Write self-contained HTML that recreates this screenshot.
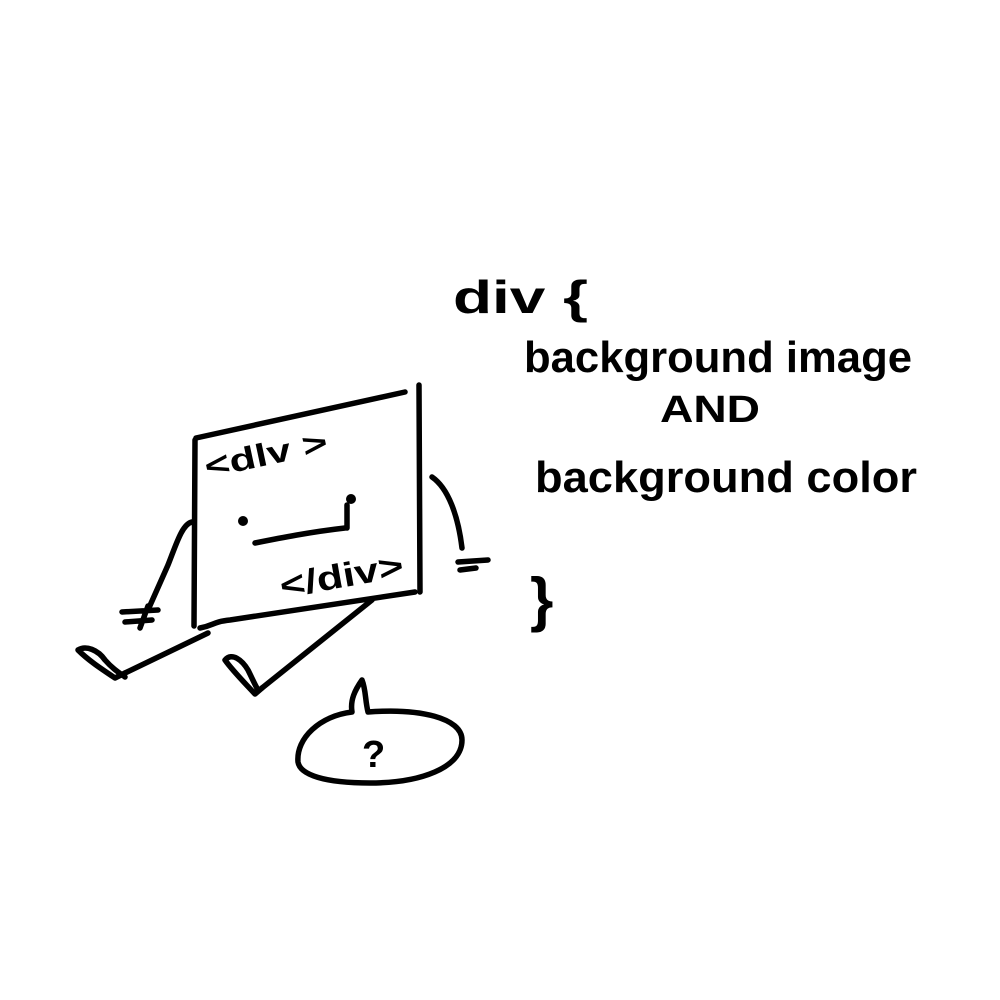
<!DOCTYPE html>
<html><head><meta charset="utf-8"><style>
html,body{margin:0;padding:0;background:#fff;}
svg{display:block}
text{font-family:"Liberation Sans",sans-serif;font-weight:bold;fill:#000}
</style></head><body>
<svg width="1000" height="1000" viewBox="0 0 1000 1000">
<g fill="none" stroke="#000" stroke-width="5.5" stroke-linecap="round" stroke-linejoin="round">
 <path d="M196 438 L405 392"/>
 <path d="M419 385 L420 592"/>
 <path d="M195 440 L194 626"/>
 <path d="M200 628 C215 625 212 622 230 620 L415 592"/>
 <path d="M192 522 C182 524 176 545 168 565 L148 610"/>
 <path d="M122 612 L158 610 M125 622 L152 620 M148 606 L140 628"/>
 <path d="M432 477 C448 488 458 515 462 548"/>
 <path d="M458 562 L488 560 M460 570 L476 568"/>
 <path d="M208 633 L125 673"/>
 <path d="M125 673 L115 678 C100 668 88 660 78 650 C86 645 98 650 105 660 C112 668 118 672 125 677"/>
 <path d="M372 600 L262 688"/>
 <path d="M262 688 L255 694 C242 680 232 670 225 660 C232 652 242 660 248 670 C252 678 255 685 258 690"/>
 <path d="M255 543 C280 538 310 532 345 528"/>
 <path d="M347 505 L347 528"/>
 <path d="M352 712 C350 700 355 690 362 680 C366 690 365 700 368 712 C420 708 462 718 462 740 C462 768 420 783 370 783 C325 783 300 775 298 762 C296 738 320 716 352 712"/>
</g>
<circle cx="243" cy="521" r="5" fill="#000"/>
<circle cx="351" cy="499" r="5" fill="#000"/>
<text x="207" y="478" font-size="32" textLength="125" lengthAdjust="spacingAndGlyphs" transform="rotate(-12 207 478)">&lt;dlv &gt;</text>
<text x="282" y="598" font-size="34" textLength="125" lengthAdjust="spacingAndGlyphs" transform="rotate(-10 282 598)">&lt;/div&gt;</text>
<text x="362" y="767" font-size="38">?</text>
<text x="453" y="313" font-size="46" font-weight="normal" textLength="135" lengthAdjust="spacingAndGlyphs">div {</text>
<text x="524" y="372" font-size="44" textLength="388" lengthAdjust="spacingAndGlyphs">background image</text>
<text x="660" y="422" font-size="38" textLength="100" lengthAdjust="spacingAndGlyphs">AND</text>
<text x="535" y="492" font-size="44" textLength="382" lengthAdjust="spacingAndGlyphs">background color</text>
<text x="530" y="620" font-size="60" font-weight="normal">}</text>
</svg>
</body></html>
